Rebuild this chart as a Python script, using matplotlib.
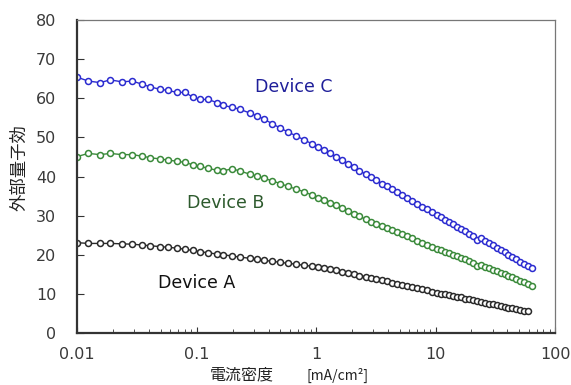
import numpy as np
import matplotlib.pyplot as plt

# current density [mA/cm2] (shared sampling of the three curves)
current = [0.010, 0.0124, 0.0156, 0.0189, 0.0238, 0.0289, 0.035, 0.0408, 0.0495, 0.0577,
           0.0687, 0.080, 0.093, 0.107, 0.125, 0.148, 0.166, 0.198, 0.23, 0.28,
           0.32, 0.37, 0.43, 0.50, 0.58, 0.68, 0.79, 0.92,
           1.03, 1.16, 1.30, 1.46, 1.64, 1.84, 2.06, 2.31, 2.6, 2.9,
           3.2, 3.55, 3.9, 4.3, 4.75, 5.2, 5.75, 6.3, 7.0, 7.7, 8.5, 9.3, 10.3,
           11.1, 12.0, 13.0, 14.0, 15.1, 16.3, 17.6, 19.0, 20.5, 22.1, 23.9, 25.8,
           27.8, 30.0, 32.4, 35.0, 37.8, 40.8, 44.0, 47.5, 51.3, 55.4, 59.8, 64.5]

# external quantum efficiency [%]
device_c = [65.4, 64.4, 64.0, 64.7, 64.2, 64.4, 63.6, 62.9, 62.3, 62.0,
            61.5, 61.5, 60.3, 59.7, 59.7, 58.9, 58.2, 57.7, 57.2, 56.2,
            55.5, 54.6, 53.5, 52.4, 51.4, 50.4, 49.4, 48.4,
            47.6, 46.8, 46.0, 45.1, 44.2, 43.3, 42.4, 41.5, 40.6, 39.8,
            39.0, 38.2, 37.5, 36.8, 36.0, 35.3, 34.5, 33.8, 33.0, 32.3, 31.6, 30.9, 30.2,
            29.6, 29.0, 28.4, 27.8, 27.2, 26.6, 26.0, 25.4, 24.8, 23.7, 24.3, 23.6,
            23.0, 22.4, 21.8, 21.2, 20.6, 20.0, 19.4, 18.8, 18.2, 17.6, 17.1, 16.6]

device_b = [45.1, 45.9, 45.6, 45.9, 45.6, 45.6, 45.2, 44.8, 44.5, 44.2,
            43.9, 43.6, 43.0, 42.6, 42.1, 41.6, 41.4, 42.0, 41.4, 40.6,
            40.1, 39.5, 38.9, 38.2, 37.5, 36.8, 36.1, 35.3,
            34.6, 33.9, 33.3, 32.6, 31.9, 31.2, 30.5, 29.8, 29.1, 28.4,
            27.8, 27.3, 26.8, 26.3, 25.7, 25.2, 24.7, 24.2, 23.6, 23.1, 22.6, 22.1, 21.6,
            21.2, 20.8, 20.4, 20.0, 19.6, 19.2, 18.8, 18.4, 17.9, 17.2, 17.5, 17.0,
            16.6, 16.2, 15.8, 15.4, 15.0, 14.6, 14.2, 13.8, 13.4, 13.0, 12.5, 12.0]

device_a = [23.1, 22.9, 22.9, 22.9, 22.8, 22.7, 22.5, 22.3, 22.1, 21.9,
            21.7, 21.4, 21.1, 20.8, 20.5, 20.2, 20.0, 19.7, 19.4, 19.1,
            18.8, 18.6, 18.3, 18.1, 17.8, 17.6, 17.3, 17.1,
            16.9, 16.6, 16.3, 16.0, 15.7, 15.4, 15.1, 14.7, 14.4, 14.1,
            13.8, 13.5, 13.2, 12.9, 12.6, 12.3, 12.0, 11.8, 11.5, 11.2, 10.9, 10.6, 10.3,
            10.1, 9.9, 9.7, 9.5, 9.3, 9.1, 8.8, 8.6, 8.4, 8.2, 8.0, 7.7,
            7.5, 7.3, 7.1, 6.9, 6.7, 6.5, 6.3, 6.1, 5.9, 5.7, 5.6]

x_ticks = [0.01, 0.1, 1, 10, 100]
x_tick_labels = ["0.01", "0.1", "1", "10", "100"]

cjk = ['Noto Sans CJK JP', 'DejaVu Sans']

fig = plt.figure(figsize=(5.71, 3.85), dpi=100)
ax = fig.add_axes([0.135, 0.135, 0.837, 0.813])

series = [
    (device_c, '#2b2bd0', '#1f1f9a', "Device C", 0.31, 62.8),
    (device_b, '#3a8a3a', '#2d5a2d', "Device B", 0.083, 33.3),
    (device_a, '#2a2a2a', '#111111', "Device A", 0.0476, 12.8),
]
for vals, col, tcol, name, tx, ty in series:
    ax.plot(current[:len(vals)], vals, '-o', color=col, lw=1.0,
            markersize=4.3, markerfacecolor='white', markeredgecolor=col, markeredgewidth=1.1)
    ax.text(tx, ty, name, color=tcol, fontsize=12.5, ha='left', va='center')

ax.set_xscale('log')
ax.set_xlim(0.01, 100)
ax.set_ylim(0, 80)
ax.set_yticks(np.arange(0, 81, 10))
ax.set_xticks(x_ticks)
ax.set_xticklabels(x_tick_labels)

ax.tick_params(axis='both', which='both', direction='in', colors='#333333',
               labelsize=11.5, labelcolor='#3a3a3a')
ax.tick_params(axis='y', length=5, pad=15)
ax.tick_params(axis='x', which='major', length=4, pad=10)
ax.tick_params(axis='x', which='minor', length=3)

for side in ['left', 'bottom']:
    ax.spines[side].set_color('#333333')
    ax.spines[side].set_linewidth(1.6)
for side in ['top', 'right']:
    ax.spines[side].set_color('#777777')
    ax.spines[side].set_linewidth(0.9)

fig.text(19 / 571, 0.564, "外部量子効", rotation=90, ha='center', va='center',
         fontsize=12.5, family=cjk, color='#222222')
fig.text(210 / 571, 1 - 375 / 385, "電流密度", ha='left', va='center',
         fontsize=11.5, family=cjk, color='#222222')
fig.text(306 / 571, 1 - 375 / 385, "[mA/cm²]", ha='left', va='center',
         fontsize=10, family=cjk, color='#222222')

fig.savefig('out.png', dpi=100)
